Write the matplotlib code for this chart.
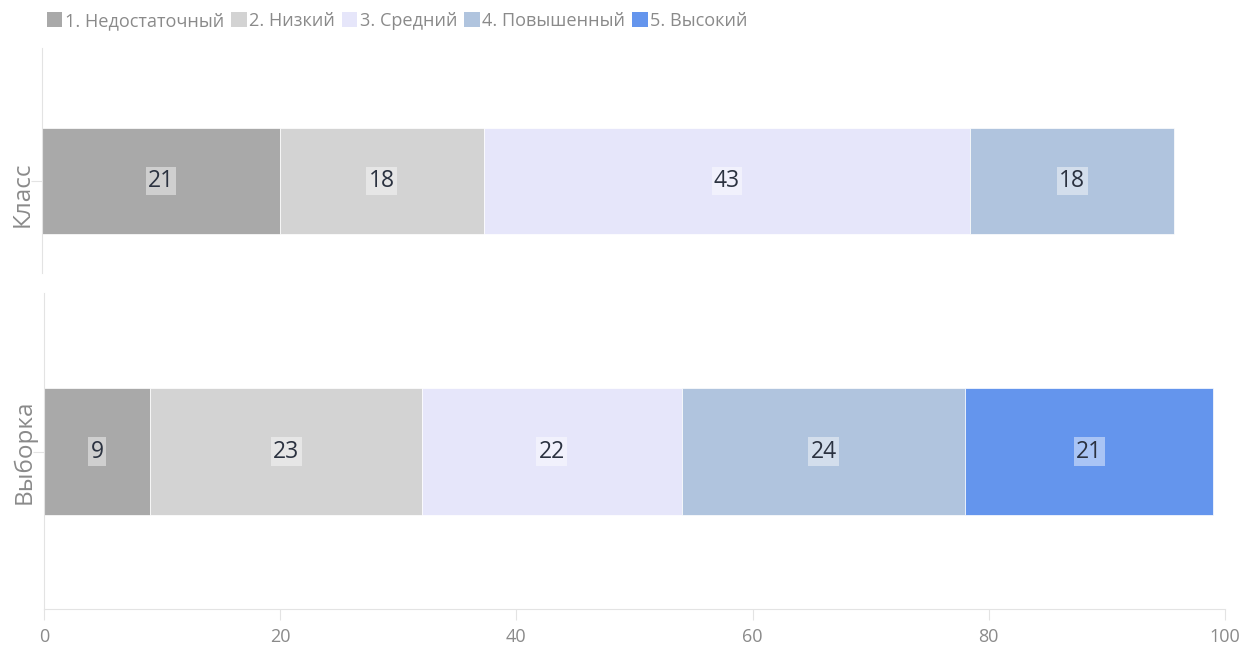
import matplotlib
matplotlib.use("Agg")
import matplotlib.pyplot as plt
from matplotlib.patches import Patch
from matplotlib.transforms import ScaledTranslation

plt.rcParams['font.family'] = ['Open Sans', 'DejaVu Sans']

levels = ["1. Недостаточный", "2. Низкий", "3. Средний", "4. Повышенный", "5. Высокий"]
colors = ["#a9a9a9", "#d3d3d3", "#e6e6fa", "#b0c4de", "#6495ed"]
groups = ["Класс", "Выборка"]
class_values = [21, 18, 43, 18, 0]
sample_values = [9, 23, 22, 24, 21]
x_ticks = [0, 20, 40, 60, 80, 100]

W, H = 1244, 646
fig = plt.figure(figsize=(W / 100, H / 100), dpi=100)


def px_axes(left, top, right, bottom):
    return fig.add_axes([left / W, 1 - bottom / H, (right - left) / W, (bottom - top) / H])


ax_top = px_axes(42, 48, 1225, 273)
ax_bot = px_axes(44, 293, 1225, 609)

spine_col = "#e3e3e3"
label_col = "#8a8a8a"


def draw(ax, values, name, ylim, height, xlim):
    left = 0
    for v, c in zip(values, colors):
        if v > 0:
            ax.barh(0, v, left=left, height=height, color=c, edgecolor="white", linewidth=0.5)
            ax.text(left + v / 2, 0, str(v), ha="center", va="center", fontsize=16.5,
                    color="#2b3240",
                    bbox=dict(boxstyle="square,pad=0.1", facecolor="white", alpha=0.45, edgecolor="none"))
        left += v
    ax.set_ylim(*ylim)
    ax.set_xlim(*xlim)
    ax.set_yticks([0])
    ax.set_yticklabels([name], rotation=90, va="center", fontsize=17.5, color=label_col)
    for s in ["top", "right"]:
        ax.spines[s].set_visible(False)
    ax.spines["left"].set_color(spine_col)
    ax.spines["bottom"].set_color(spine_col)
    ax.tick_params(axis="y", length=8, color=spine_col, pad=-3)
    ax.tick_params(axis="x", length=8, color=spine_col, labelcolor=label_col, labelsize=13, pad=6)


draw(ax_top, class_values, groups[0], (-0.409, 0.591), 0.471, (0, 104.48))
ax_top.spines["bottom"].set_visible(False)
ax_top.set_xticks([])
# the upper group label sits a little below its tick
for lbl in ax_top.get_yticklabels():
    lbl.set_transform(lbl.get_transform() + ScaledTranslation(0, -0.13, fig.dpi_scale_trans))

draw(ax_bot, sample_values, groups[1], (-0.498, 0.502), 0.4, (0, 100))
ax_bot.set_xticks(x_ticks)

handles = [Patch(facecolor=c, edgecolor="none") for c in colors]
fig.legend(handles, levels, loc="upper left", bbox_to_anchor=(47 / W, 1 - 12 / H), ncol=5,
           frameon=False, fontsize=13.1, labelcolor=label_col, handlelength=0.85, handleheight=0.85,
           handletextpad=0.12, columnspacing=0.4, borderaxespad=0, borderpad=0)

fig.savefig("out.png", dpi=100)
